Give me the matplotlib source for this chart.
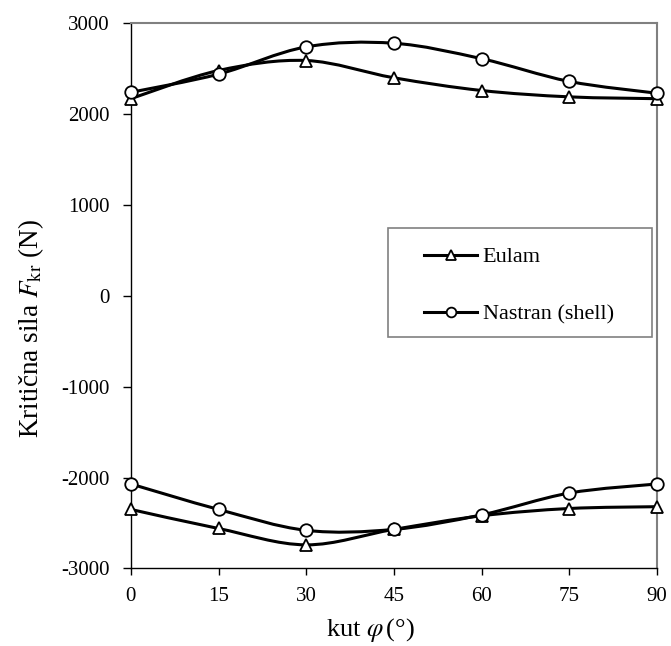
import matplotlib
matplotlib.use('Agg')
import matplotlib.pyplot as plt
from matplotlib.path import Path
from matplotlib.patches import PathPatch, Rectangle
from matplotlib.lines import Line2D
import numpy as np

plt.rc('font', family='Liberation Serif')
plt.rc('mathtext', fontset='stix')
plt.rc('axes', unicode_minus=False)

# kut phi (deg)
angle = [0, 15, 30, 45, 60, 75, 90]

# Eulam, upper and lower branch (N)
eulam_up = [2170, 2480, 2590, 2400, 2260, 2190, 2170]
eulam_lo = [-2350, -2560, -2740, -2570, -2420, -2340, -2320]

# Nastran (shell), upper and lower branch (N)
nastran_up = [2240, 2440, 2740, 2780, 2610, 2360, 2230]
nastran_lo = [-2070, -2350, -2580, -2570, -2410, -2170, -2070]


def smooth_path(xs, ys):
    # Excel-like smoothed line: cubic Bezier through the points
    p = np.column_stack([xs, ys]).astype(float)
    n = len(p)
    verts = [p[0]]
    codes = [Path.MOVETO]
    for i in range(n - 1):
        p0 = p[i - 1] if i > 0 else p[i]
        p3 = p[i + 2] if i + 2 < n else p[i + 1]
        c1 = p[i] + (p[i + 1] - p0) / 6.0
        c2 = p[i + 1] - (p3 - p[i]) / 6.0
        verts += [c1, c2, p[i + 1]]
        codes += [Path.CURVE4] * 3
    return Path(verts, codes)


fig = plt.figure(figsize=(6.71, 6.46), dpi=100)
ax = fig.add_axes([0.195, 0.120, 0.784, 0.844])

lw = 2.2
for ys in [eulam_up, eulam_lo, nastran_up, nastran_lo]:
    ax.add_patch(PathPatch(smooth_path(angle, ys), fill=False,
                           edgecolor='black', lw=lw, capstyle='round'))

for ys in [eulam_up, eulam_lo]:
    ax.plot(angle, ys, linestyle='none', marker='^', ms=9, mfc='white',
            mec='black', mew=1.3, zorder=3, clip_on=False)
for ys in [nastran_up, nastran_lo]:
    ax.plot(angle, ys, linestyle='none', marker='o', ms=9, mfc='white',
            mec='black', mew=1.3, zorder=3, clip_on=False)

ax.set_xlim(0, 90)
ax.set_ylim(-3000, 3000)
ax.set_xticks(range(0, 91, 15))
ax.set_yticks(range(-3000, 3001, 1000))
ax.tick_params(axis='y', direction='out', length=6, width=1, pad=9, labelsize=15)
ax.tick_params(axis='x', direction='out', length=5, width=1, pad=8, labelsize=15)

for s in ['top', 'right']:
    ax.spines[s].set_color('#808080')
    ax.spines[s].set_linewidth(1.5)
for s in ['left', 'bottom']:
    ax.spines[s].set_color('black')
    ax.spines[s].set_linewidth(1.0)

ax.set_xlabel(r'kut $\varphi\,$(°)', fontsize=19)
ax.set_ylabel(r'Kritična sila $F_{\mathrm{kr}}$ (N)', fontsize=19.5)
ax.xaxis.set_label_coords(0.455, -0.088)
ax.yaxis.set_label_coords(-0.162, 0.44)

# legend
handles = [
    Line2D([], [], color='black', lw=lw, marker='^', ms=7, mfc='white', mec='black', mew=1.3),
    Line2D([], [], color='black', lw=lw, marker='o', ms=7, mfc='white', mec='black', mew=1.3),
]
ax.add_patch(Rectangle((0.489, 0.424), 0.502, 0.200, transform=ax.transAxes,
                       fill=True, facecolor='white', edgecolor='#808080', lw=1.2, zorder=4))
leg = ax.legend(handles, ['Eulam', 'Nastran (shell)'], loc='upper left',
                bbox_to_anchor=(0.557, 0.590), borderaxespad=0, borderpad=0,
                frameon=False, fontsize=16, handlelength=2.4, handletextpad=0.25,
                labelspacing=1.65)
leg.set_zorder(5)

plt.savefig('out.png', dpi=100)
